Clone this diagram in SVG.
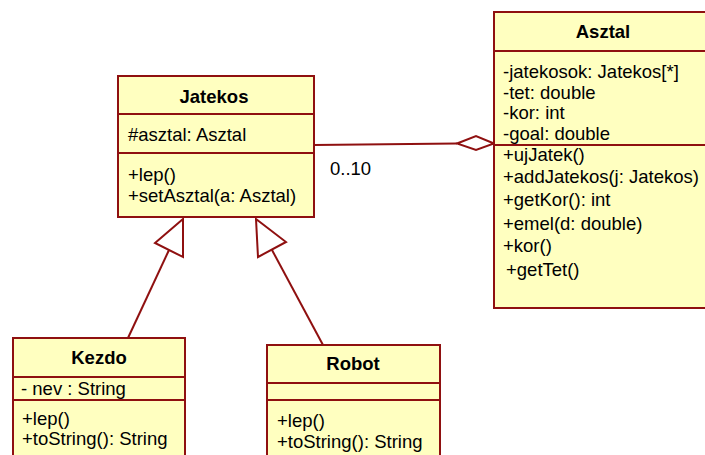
<svg xmlns="http://www.w3.org/2000/svg" width="705" height="455" viewBox="0 0 705 455">
<style>
.box{fill:#ffffc0;stroke:#8f1010;stroke-width:2}
.ln{stroke:#8f1010;stroke-width:2;fill:none}
text{font-family:"Liberation Sans",Arial,sans-serif;font-size:18.5px;fill:#000}
.t{font-weight:bold;text-anchor:middle}
</style>
<rect width="705" height="455" fill="#fff"/>
<g id="connectors">
<line class="ln" x1="314" y1="145" x2="457" y2="143.5"/>
<polygon class="ln" points="457,143.5 476,136 494,143.5 476,150" fill="#fff"/>
<text x="330" y="175">0..10</text>
<line class="ln" x1="169" y1="250" x2="128" y2="338"/>
<polygon class="ln" points="183,219 155,243 183,257" fill="#fff"/>
<line class="ln" x1="272" y1="250" x2="323" y2="345"/>
<polygon class="ln" points="256,219 286,242 258,257" fill="#fff"/>
</g>
<g id="Jatekos">
<rect class="box" x="118" y="76" width="196" height="141"/>
<line class="ln" x1="118" y1="114" x2="314" y2="114"/>
<line class="ln" x1="118" y1="153" x2="314" y2="153"/>
<text class="t" x="214" y="103">Jatekos</text>
<text x="128" y="141">#asztal: Asztal</text>
<text x="128" y="181">+lep()</text>
<text x="128" y="202">+setAsztal(a: Asztal)</text>
</g>
<g id="Asztal">
<rect class="box" x="494" y="12" width="215" height="296"/>
<line class="ln" x1="494" y1="51" x2="709" y2="51"/>
<line class="ln" x1="494" y1="145" x2="709" y2="145"/>
<text class="t" x="603" y="38">Asztal</text>
<text x="503" y="78">-jatekosok: Jatekos[*]</text>
<text x="503" y="99">-tet: double</text>
<text x="503" y="119">-kor: int</text>
<text x="503" y="140">-goal: double</text>
<text x="503" y="161">+ujJatek()</text>
<text x="503" y="183">+addJatekos(j: Jatekos)</text>
<text x="503" y="206">+getKor(): int</text>
<text x="503" y="230">+emel(d: double)</text>
<text x="503" y="252">+kor()</text>
<text x="506" y="276">+getTet()</text>
</g>
<g id="Kezdo">
<rect class="box" x="13" y="338" width="172" height="130"/>
<line class="ln" x1="13" y1="377" x2="185" y2="377"/>
<line class="ln" x1="13" y1="400" x2="185" y2="400"/>
<text class="t" x="99" y="364">Kezdo</text>
<text x="21" y="395">- nev : String</text>
<text x="22" y="425">+lep()</text>
<text x="22" y="445">+toString(): String</text>
</g>
<g id="Robot">
<rect class="box" x="267" y="345" width="173" height="130"/>
<line class="ln" x1="267" y1="383" x2="440" y2="383"/>
<line class="ln" x1="267" y1="400" x2="440" y2="400"/>
<text class="t" x="353" y="370">Robot</text>
<text x="277" y="427">+lep()</text>
<text x="277" y="448">+toString(): String</text>
</g>
</svg>
